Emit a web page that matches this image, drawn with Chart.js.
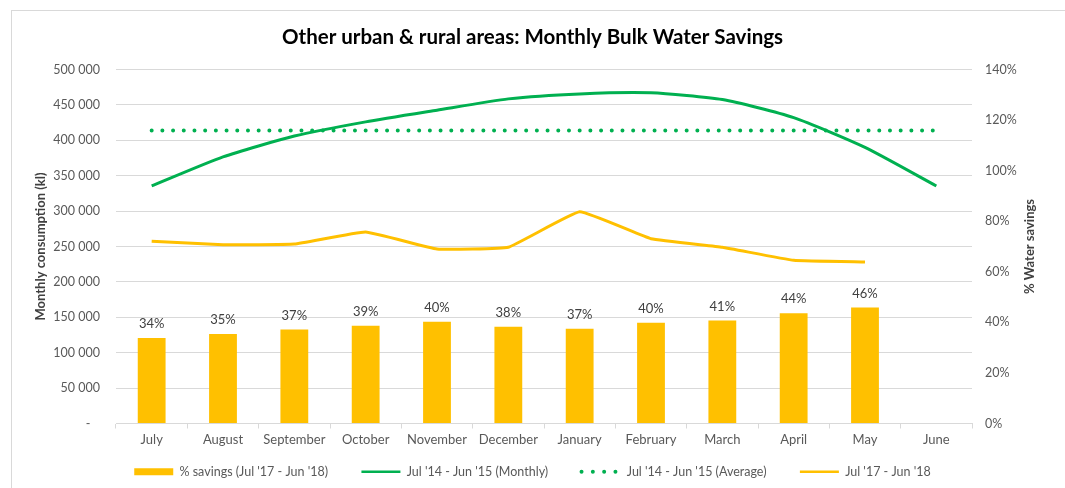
<!DOCTYPE html>
<html lang="en">
<head>
    <meta charset="UTF-8">
    <title>Other urban & rural areas: Monthly Bulk Water Savings</title>
    <script src="https://cdn.jsdelivr.net/npm/chart.js"></script>
    <style>
        body {
            margin: 0;
            background: #fff;
            font-family: Lato, sans-serif;
        }
        .wrap {
            position: relative;
            width: 1065px;
            height: 488px;
            overflow: hidden;
        }
        .frame {
            position: absolute;
            left: 11px;
            top: 10px;
            width: 1080px;
            height: 500px;
            border: 1px solid #d9d9d9;
            pointer-events: none;
        }
    </style>
</head>
<body>
    <div class="wrap">
        <div class="frame"></div>
        <canvas id="chart" width="1065" height="488"></canvas>
    </div>
    <script>
        // data
        const months = ['July', 'August', 'September', 'October', 'November', 'December',
                        'January', 'February', 'March', 'April', 'May', 'June'];
        const savingsPct = [33.8, 35.4, 37.2, 38.7, 40.2, 38.3, 37.5, 39.8, 40.7, 43.6, 45.9, null];
        const savingsLabels = ['34%', '35%', '37%', '39%', '40%', '38%', '37%', '40%', '41%', '44%', '46%', ''];
        const monthly1415 = [335500, 376500, 406000, 426000, 442500, 458500, 465500, 467000, 457500, 432000, 390000, 335500];
        const average1415 = [414000, 414000, 414000, 414000, 414000, 414000, 414000, 414000, 414000, 414000, 414000, 414000];
        const monthly1718 = [257500, 252500, 253500, 270500, 246500, 249000, 299000, 261000, 249000, 230500, 228000, null];
        const leftTicks = [0, 50000, 100000, 150000, 200000, 250000, 300000, 350000, 400000, 450000, 500000];

        const GREEN = '#00B050';
        const YELLOW = '#FFC000';
        const GREY = '#595959';
        const GRID = '#d9d9d9';
        const GAP = '       '; // extra room between legend entries

        // % labels over the bars
        const barLabels = {
            id: 'barLabels',
            afterDatasetsDraw(chart) {
                const meta = chart.getDatasetMeta(0);
                const ctx = chart.ctx;
                ctx.save();
                ctx.font = '13px Lato';
                ctx.fillStyle = '#404040';
                ctx.textAlign = 'center';
                ctx.textBaseline = 'middle';
                meta.data.forEach((bar, i) => {
                    if (savingsPct[i] == null) return;
                    ctx.fillText(savingsLabels[i], bar.x, bar.y - 14);
                });
                ctx.restore();
            }
        };

        // right axis title reads bottom to top
        const rightTitle = {
            id: 'rightTitle',
            afterDraw(chart) {
                const ctx = chart.ctx;
                const area = chart.chartArea;
                ctx.save();
                ctx.translate(1030, (area.top + area.bottom) / 2);
                ctx.rotate(-Math.PI / 2);
                ctx.font = 'bold 13px Lato';
                ctx.fillStyle = '#404040';
                ctx.textAlign = 'center';
                ctx.textBaseline = 'middle';
                ctx.fillText('% Water savings', 0, 0);
                ctx.restore();
            }
        };

        const ctx = document.getElementById('chart').getContext('2d');
        const chart = new Chart(ctx, {
            type: 'bar',
            data: {
                labels: months,
                datasets: [{
                    type: 'bar',
                    label: "% savings (Jul '17 - Jun '18)",
                    data: savingsPct,
                    backgroundColor: YELLOW,
                    yAxisID: 'y1',
                    barPercentage: 0.39,
                    categoryPercentage: 1,
                    order: 4
                }, {
                    type: 'line',
                    label: "Jul '14 - Jun '15 (Monthly)",
                    data: monthly1415,
                    borderColor: GREEN,
                    borderWidth: 3,
                    pointRadius: 0,
                    tension: 0.2,
                    yAxisID: 'y',
                    order: 2
                }, {
                    type: 'line',
                    label: "Jul '14 - Jun '15 (Average)",
                    data: average1415,
                    borderColor: GREEN,
                    borderWidth: 4,
                    borderDash: [0, 10.7],
                    borderCapStyle: 'round',
                    pointRadius: 0,
                    yAxisID: 'y',
                    order: 3
                }, {
                    type: 'line',
                    label: "Jul '17 - Jun '18",
                    data: monthly1718,
                    borderColor: YELLOW,
                    borderWidth: 3,
                    pointRadius: 0,
                    tension: 0.1,
                    yAxisID: 'y',
                    order: 1
                }]
            },
            options: {
                responsive: false,
                animation: false,
                layout: { padding: 0 },
                plugins: {
                    title: {
                        display: true,
                        text: 'Other urban & rural areas: Monthly Bulk Water Savings',
                        color: '#000',
                        font: { family: 'Lato', size: 20.5, weight: 'bold', lineHeight: 1.2 },
                        padding: { top: 24.7, bottom: 20.2 }
                    },
                    legend: {
                        position: 'bottom',
                        labels: {
                            usePointStyle: true,
                            pointStyleWidth: 39,
                            boxHeight: 7,
                            padding: 11,
                            color: GREY,
                            font: { family: 'Lato', size: 12.5 },
                            generateLabels(chart) {
                                const n = chart.data.datasets.length;
                                return chart.data.datasets.map((ds, i) => ({
                                    text: ds.label + (i < n - 1 ? GAP : ''),
                                    datasetIndex: i,
                                    hidden: false,
                                    fontColor: GREY,
                                    fillStyle: ds.type === 'bar' ? ds.backgroundColor : 'rgba(0,0,0,0)',
                                    strokeStyle: ds.type === 'bar' ? 'rgba(0,0,0,0)' : ds.borderColor,
                                    lineWidth: ds.type === 'bar' ? 0 : (i === 2 ? 4 : 2.5),
                                    lineDash: i === 2 ? [0, 11.3] : [],
                                    lineCap: i === 2 ? 'round' : 'butt',
                                    pointStyle: ds.type === 'bar' ? 'rect' : 'line'
                                }));
                            }
                        }
                    },
                    tooltip: { enabled: false }
                },
                scales: {
                    x: {
                        afterFit(scale) { scale.height = 31; },
                        grid: {
                            offset: true,
                            drawOnChartArea: false,
                            drawTicks: true,
                            tickLength: 5,
                            color: GRID
                        },
                        border: { color: GRID },
                        ticks: {
                            color: GREY,
                            padding: 4,
                            maxRotation: 0,
                            autoSkip: false,
                            font: { family: 'Lato', size: 13 }
                        }
                    },
                    y: {
                        position: 'left',
                        min: 0,
                        max: 500000,
                        afterFit(scale) { scale.width = 116; },
                        afterBuildTicks(scale) { scale.ticks = leftTicks.map(v => ({ value: v })); },
                        grid: { color: GRID, drawTicks: false },
                        border: { display: false },
                        ticks: {
                            color: GREY,
                            padding: 16,
                            font: { family: 'Lato', size: 12.5 },
                            callback: v => v === 0 ? '-   ' : String(v).replace(/\B(?=(\d{3})+(?!\d))/g, ' ')
                        },
                        title: {
                            display: true,
                            text: 'Monthly consumption (kl)',
                            color: '#404040',
                            font: { family: 'Lato', size: 13, weight: 'bold' },
                            padding: { top: 33, bottom: 0 }
                        }
                    },
                    y1: {
                        position: 'right',
                        min: 0,
                        max: 140,
                        afterFit(scale) { scale.width = 93; },
                        grid: { drawOnChartArea: false, drawTicks: false },
                        border: { display: false },
                        ticks: {
                            stepSize: 20,
                            color: GREY,
                            padding: 13,
                            font: { family: 'Lato', size: 12.5 },
                            callback: v => v + '%'
                        }
                    }
                }
            },
            plugins: [barLabels, rightTitle]
        });
    </script>
</body>
</html>
